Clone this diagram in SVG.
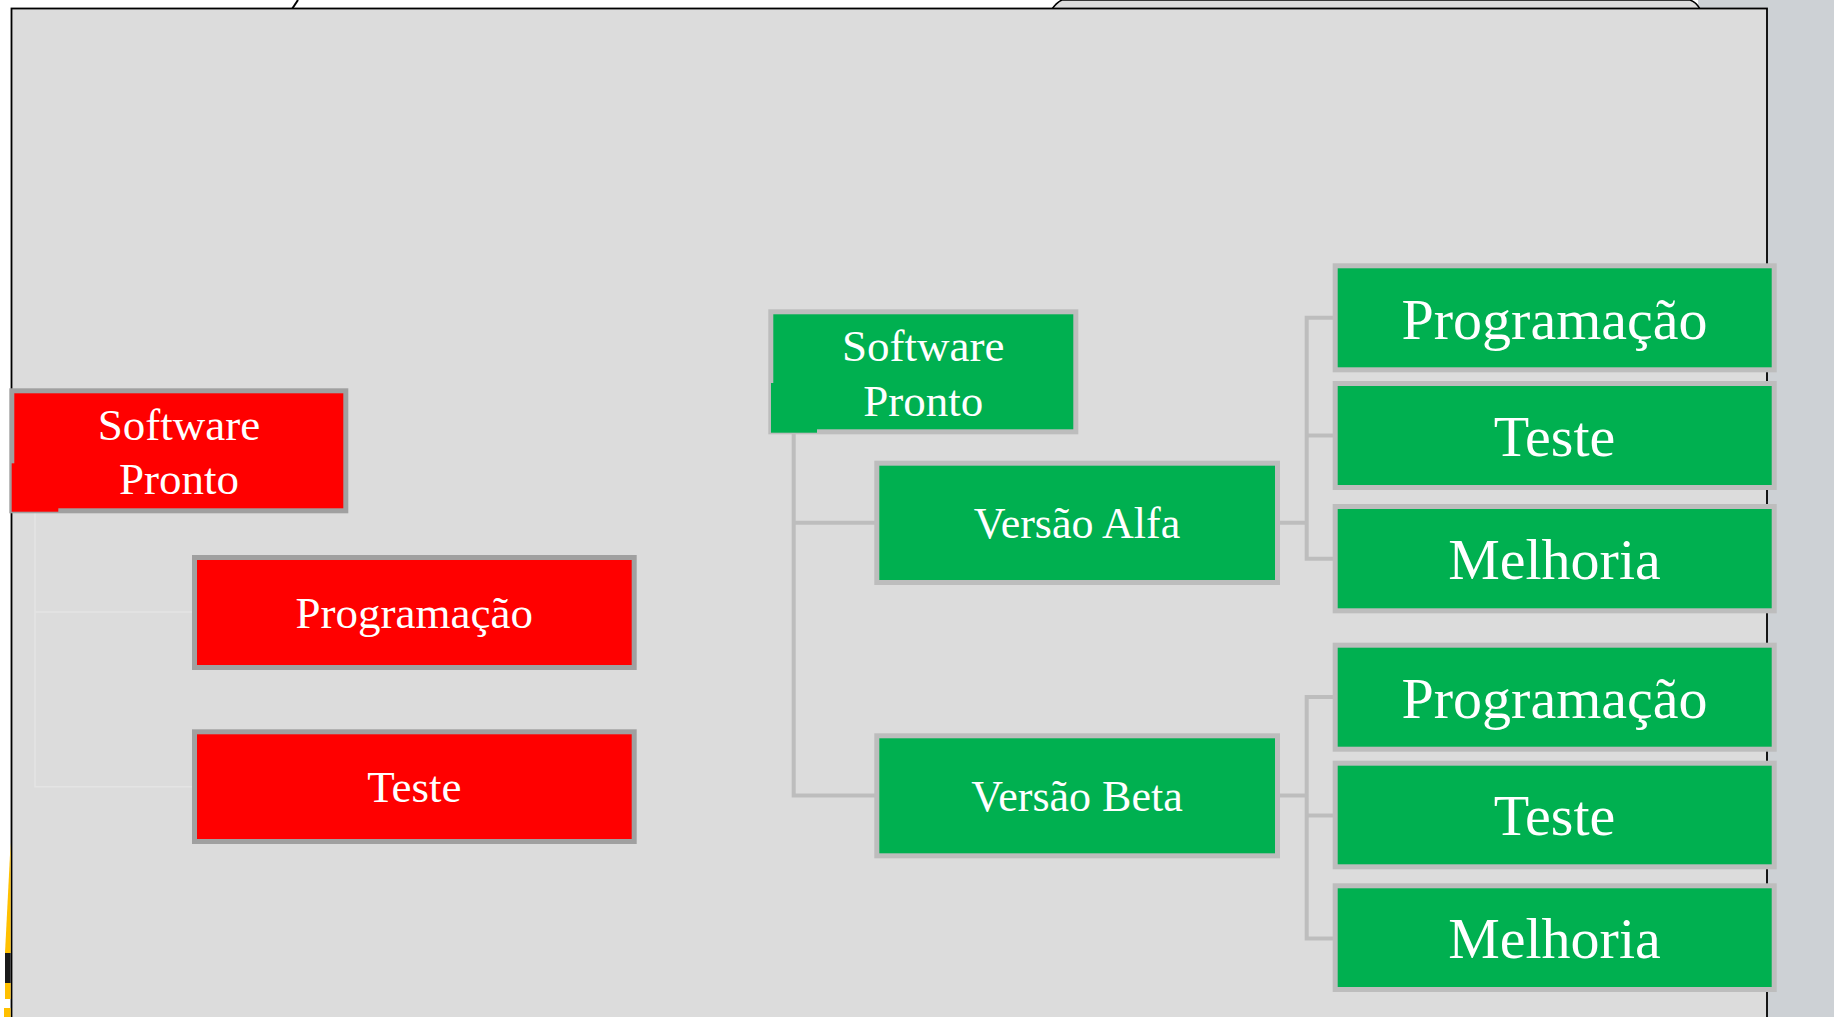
<svg xmlns="http://www.w3.org/2000/svg" width="1834" height="1017" viewBox="0 0 1834 1017">
<style>
.red{fill:#FF0000;stroke:#A0A0A0;stroke-width:5}
.grn{fill:#00B050;stroke:#BDBDBD;stroke-width:5}
text{font-family:'Liberation Serif','Tinos','Times New Roman','DejaVu Serif',serif;fill:#FFFFFF;text-anchor:middle}
.s45{font-size:45px}
.s44{font-size:44px}
.s58{font-size:58px}
.cg{fill:none;stroke:#BDBDBD;stroke-width:4}
.cr{fill:none;stroke:#E4E4E4;stroke-width:1.5}
</style>
<g id="background">
<rect x="0" y="0" width="1834" height="1017" fill="#FFFFFF"/>
<rect x="1698" y="0" width="136" height="10" fill="#CDD1D5"/>
<rect x="1767" y="0" width="67" height="1017" fill="#CDD1D5"/>
<path d="M1052,9 Q1057,2 1062,0 L1690,0 Q1696,2 1700,9 Z" fill="#DCDCDC" stroke="#000000" stroke-width="1.5"/>
<line x1="292" y1="9" x2="298" y2="0" stroke="#000000" stroke-width="2"/>
<rect x="11.5" y="8.5" width="1755.5" height="1020" fill="#DCDCDC" stroke="#000000" stroke-width="1.8"/>
<polygon points="10.6,843 10.6,953 5,953" fill="#FFC000"/>
<rect x="5" y="953" width="5.6" height="30" fill="#1A1A1A"/>
<rect x="5" y="983" width="5.6" height="16" fill="#FFC000"/>
<rect x="4" y="1008" width="6.6" height="9" fill="#FFC000"/>
</g>
<g id="connectors">
<path class="cr" d="M35,513 V786.7 H192 M35,612 H192"/>
<path class="cg" d="M793.7,434 V795.5 H876 M793.7,522.8 H876"/>
<path class="cg" d="M1278,522.8 H1306.7 M1334,317.8 H1306.7 V558.7 H1334 M1306.7,435.5 H1334"/>
<path class="cg" d="M1278,795.5 H1306.7 M1334,697 H1306.7 V938.5 H1334 M1306.7,815.5 H1334"/>
</g>
<g id="red-software-pronto">
<rect class="red" x="11.8" y="390.8" width="334" height="120"/>
<rect x="11.7" y="463.3" width="46.6" height="48.4" fill="#FF0000"/>
<text class="s45" x="179" y="440">Software</text>
<text class="s45" x="179" y="494">Pronto</text>
</g>
<g id="red-programacao">
<rect class="red" x="194.5" y="557.5" width="439.7" height="110"/>
<text class="s45" x="414.3" y="628.3">Programação</text>
</g>
<g id="red-teste">
<rect class="red" x="194.5" y="731.8" width="439.7" height="109.7"/>
<text class="s45" x="414.3" y="801.7">Teste</text>
</g>
<g id="green-software-pronto">
<rect class="grn" x="770.8" y="311.8" width="305" height="120"/>
<rect x="771" y="383" width="46" height="49.7" fill="#00B050"/>
<text class="s45" x="923.3" y="360.7">Software</text>
<text class="s45" x="923.3" y="415.7">Pronto</text>
</g>
<g id="versao-alfa">
<rect class="grn" x="876.8" y="463.2" width="400.7" height="119.3"/>
<text class="s44" x="1077" y="538.3">Versão Alfa</text>
</g>
<g id="versao-beta">
<rect class="grn" x="876.8" y="735.8" width="400.7" height="120"/>
<text class="s44" x="1077" y="811">Versão Beta</text>
</g>
<g id="alfa-programacao">
<rect class="grn" x="1335.2" y="265.8" width="439" height="104"/>
<text class="s58" x="1554.5" y="339">Programação</text>
</g>
<g id="alfa-teste">
<rect class="grn" x="1335.2" y="383.5" width="439" height="104"/>
<text class="s58" x="1554.5" y="456">Teste</text>
</g>
<g id="alfa-melhoria">
<rect class="grn" x="1335.2" y="506.5" width="439" height="104.3"/>
<text class="s58" x="1554.5" y="579.3">Melhoria</text>
</g>
<g id="beta-programacao">
<rect class="grn" x="1335.2" y="645.2" width="439" height="104"/>
<text class="s58" x="1554.5" y="718.3">Programação</text>
</g>
<g id="beta-teste">
<rect class="grn" x="1335.2" y="763.2" width="439" height="103.6"/>
<text class="s58" x="1554.5" y="835">Teste</text>
</g>
<g id="beta-melhoria">
<rect class="grn" x="1335.2" y="885.8" width="439" height="103.7"/>
<text class="s58" x="1554.5" y="958.3">Melhoria</text>
</g>
</svg>
